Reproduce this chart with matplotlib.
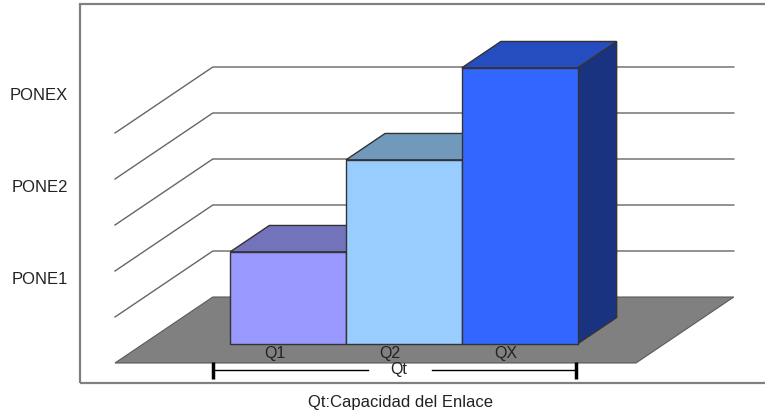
import numpy as np
import matplotlib
matplotlib.use("Agg")
import matplotlib.pyplot as plt
from matplotlib.patches import Polygon, Rectangle
from matplotlib.transforms import ScaledTranslation

plt.rcParams['font.family'] = ['Liberation Sans', 'DejaVu Sans']

# data
categories = ['Q1', 'Q2', 'QX']
values = [2, 4, 6]
tick_values = [2, 4, 6]
tick_labels = ['PONE1', 'PONE2', 'PONEX']
grid_values = [1, 2, 3, 4, 5]
group_label = 'Qt'
axis_title = 'Qt:Capacidad del Enlace'

front_colors = ['#9999ff', '#99ccff', '#3366ff']
top_colors = ['#7373bb', '#7099bb', '#264dbf']
side_colors = ['#5c5c99', '#5c7f99', '#1a3380']

# pseudo-3D layout: depth offset per unit depth, in data units
KX, KY = 98 / 116, 66 / 46
XMIN, XMAX = -1.25, 3.25
BAR_D0, BAR_D1 = 0.29, 0.69
EDGE = '#333333'


def proj(x, v, d):
    return (x + d * KX, v + d * KY)


fig = plt.figure(figsize=(7.65, 4.12), dpi=100)
W, H = 765, 412
ax = fig.add_axes([115 / W, 49 / H, 521 / W, 7 * 46 / H])
ax.set_xlim(XMIN, XMAX)
ax.set_ylim(0, 7)
for s in ax.spines.values():
    s.set_visible(False)
ax.set_xticks([])

# outer frame (right side runs off the canvas)
fig.patches.append(Rectangle((80 / W, 29 / H), 1.0, 379 / H, transform=fig.transFigure,
                             fill=False, edgecolor='#808080', lw=1.6, zorder=0))

# floor
floor = [proj(XMIN, 0, 0), proj(XMAX, 0, 0), proj(XMAX, 0, 1), proj(XMIN, 0, 1)]
ax.add_patch(Polygon(floor, closed=True, facecolor='#808080', edgecolor='#5a5a5a',
                     lw=0.8, zorder=1, clip_on=False))

# wall gridlines: left wall diagonal then back wall horizontal
for v in grid_values:
    pts = np.array([proj(XMIN, v, 0), proj(XMIN, v, 1), proj(XMAX, v, 1)])
    ax.plot(pts[:, 0], pts[:, 1], color='#666666', lw=1.0, zorder=1, clip_on=False)

# bars
for i, (val, fc, tc, sc) in enumerate(zip(values, front_colors, top_colors, side_colors)):
    x0, x1 = i - 0.5, i + 0.5
    z = 3 + i
    top = [proj(x0, val, BAR_D0), proj(x1, val, BAR_D0), proj(x1, val, BAR_D1), proj(x0, val, BAR_D1)]
    side = [proj(x1, 0, BAR_D0), proj(x1, 0, BAR_D1), proj(x1, val, BAR_D1), proj(x1, val, BAR_D0)]
    front = [proj(x0, 0, BAR_D0), proj(x1, 0, BAR_D0), proj(x1, val, BAR_D0), proj(x0, val, BAR_D0)]
    ax.add_patch(Polygon(side, closed=True, facecolor=sc, edgecolor=EDGE, lw=1.0, zorder=z, clip_on=False))
    ax.add_patch(Polygon(top, closed=True, facecolor=tc, edgecolor=EDGE, lw=1.0, zorder=z, clip_on=False))
    ax.add_patch(Polygon(front, closed=True, facecolor=fc, edgecolor=EDGE, lw=1.0, zorder=z, clip_on=False))
    lx, ly = proj(i, 0, 0.15)
    ax.text(lx, ly, categories[i], ha='center', va='center', fontsize=11.5,
            color='#222222', zorder=10)

# value axis labels
ax.set_yticks(tick_values)
ax.set_yticklabels(tick_labels, fontsize=12, color='#222222')
ax.tick_params(axis='y', length=0, pad=34)
for lbl in ax.get_yticklabels():
    lbl.set_transform(lbl.get_transform() + ScaledTranslation(0, -0.07, fig.dpi_scale_trans))

# Qt bracket under the floor
by = -0.152
bl, br = -0.405, 2.733
ax.plot([bl, 0.931], [by, by], color='black', lw=1.0, clip_on=False)
ax.plot([1.491, br], [by, by], color='black', lw=1.0, clip_on=False)
for bx in (bl, br):
    ax.plot([bx, bx], [by + 0.17, by - 0.2], color='black', lw=2.5, clip_on=False,
            solid_capstyle='butt')
ax.text(1.2, by, group_label, ha='center', va='center', fontsize=11.5, color='#222222')

fig.text(400 / W, 10 / H, axis_title, ha='center', va='center', fontsize=12, color='#222222')

fig.savefig('out.png', dpi=100)
